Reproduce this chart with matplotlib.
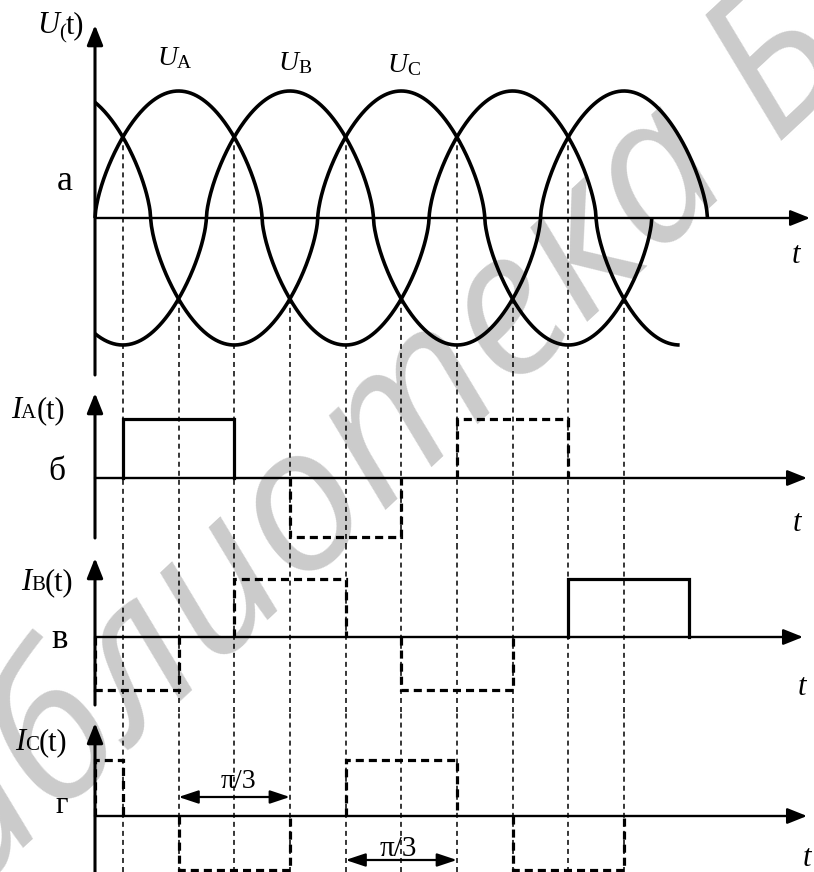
import numpy as np
import matplotlib
matplotlib.use('Agg')
import matplotlib.pyplot as plt

plt.rcParams['lines.scale_dashes'] = False
plt.rcParams['font.family'] = ['Liberation Serif', 'DejaVu Serif']
SERIF = ['Liberation Serif', 'DejaVu Serif']

# ---------------- data ----------------
# phase voltages U_A, U_B, U_C (electrical degrees)
u_names = ['A', 'B', 'C']
u_shift = [0, -120, 120]
u_start = [0, 0, 0]
u_end = [630, 660, 600]
u_shape = 0.65          # drawn curves are fuller than a pure sine

# commutation instants (dashed guide lines)
guide_deg = [30, 90, 150, 210, 270, 330, 390, 450, 510, 570]

# phase currents: interval start/end, level, line style
ia_start = [30, 210, 390]
ia_end = [150, 330, 510]
ia_level = [1.0, -1.0, 1.0]
ia_style = ['solid', 'dashed', 'dashed']

ib_start = [0, 150, 330, 510]
ib_end = [90, 270, 450, 640]
ib_level = [-0.92, 1.0, -0.92, 1.0]
ib_style = ['dashed', 'dashed', 'dashed', 'solid']

ic_start = [0, 90, 270, 450]
ic_end = [30, 210, 390, 570]
ic_level = [1.0, -0.97, 1.0, -0.97]
ic_style = ['dashed', 'dashed', 'dashed', 'dashed']

# pi/3 interval markers (in panel г)
pi3_start = [90, 270]
pi3_end = [210, 390]
pi3_text = ['π/3', 'π/3']

# ---------------- layout ----------------
W, H, DPI = 814, 872, 100
X0, KX = 95.0, 0.928            # pixel of 0 deg, pixels per degree
XLIM = ((0 - X0) / KX, (W - X0) / KX)
# panel: top px, bottom px, zero-line px, pixels per unit
panel_px = [(0, 376, 218, 127), (376, 548, 478, 59),
            (548, 712, 637, 58), (712, 872, 816, 56)]
axis_v_px = [(375, 25), (538, 393), (705, 558), (872, 723)]
axis_h_tip_px = [810, 807, 803, 807]

fig = plt.figure(figsize=(W / DPI, H / DPI), dpi=DPI)
ax_o = fig.add_axes([0, 0, 1, 1], zorder=0)
ax_o.set_xlim(0, W)
ax_o.set_ylim(H, 0)
ax_o.axis('off')

axes = []
for top, bot, zero, unit in panel_px:
    ax = fig.add_axes([0, 1 - bot / H, 1, (bot - top) / H], zorder=1)
    ax.set_facecolor('none')
    ax.axis('off')
    ax.set_xlim(*XLIM)
    ax.set_ylim((zero - bot) / unit, (zero - top) / unit)
    axes.append(ax)


def pval(i, px):
    top, bot, zero, unit = panel_px[i]
    return (zero - px) / unit


def pxdeg(px):
    return (px - X0) / KX


GUIDE = dict(color='k', lw=1.1, ls=(0, (3.6, 2.9)))
DASH = (0, (5.8, 3.6))

# axes with arrows
for i, ax in enumerate(axes):
    vb, vt = axis_v_px[i]
    ax.annotate('', xy=(0, pval(i, vt)), xytext=(0, pval(i, vb)),
                arrowprops=dict(arrowstyle='-|>,head_length=0.6,head_width=0.24',
                                mutation_scale=20, lw=2.2, color='k',
                                shrinkA=0, shrinkB=0),
                annotation_clip=False)
    ax.annotate('', xy=(pxdeg(axis_h_tip_px[i]), 0), xytext=(0, 0),
                arrowprops=dict(arrowstyle='-|>,head_length=0.6,head_width=0.24',
                                mutation_scale=20, lw=1.7, color='k',
                                shrinkA=0, shrinkB=0),
                annotation_clip=False)


def u_curve(theta, k):
    v = np.sin(np.radians(theta + u_shift[k]))
    return np.sign(v) * np.abs(v) ** u_shape


# panel a: voltages
axa = axes[0]
for k in range(3):
    th = np.linspace(u_start[k], u_end[k], 800)
    axa.plot(th, u_curve(th, k), color='k', lw=2.6, solid_capstyle='butt')

for g in guide_deg:
    vals = sorted(u_curve(g, k) for k in range(3))
    start = vals[2] if abs(vals[2] - vals[1]) < 1e-6 else vals[0]
    axa.vlines(g, axa.get_ylim()[0], start, **GUIDE)
    for ax in axes[1:]:
        ax.axvline(g, **GUIDE)


def draw_current(ax, starts, ends, levels, styles):
    for s, e, l, st in zip(starts, ends, levels, styles):
        ls = '-' if st == 'solid' else DASH
        ax.plot([s, s, e, e], [0, l, l, 0], color='k', lw=2.3, ls=ls,
                solid_joinstyle='miter', dash_joinstyle='miter')


draw_current(axes[1], ia_start, ia_end, ia_level, ia_style)
draw_current(axes[2], ib_start, ib_end, ib_level, ib_style)
draw_current(axes[3], ic_start, ic_end, ic_level, ic_style)

# pi/3 markers
pi3_arrow_px = [797, 860]
pi3_text_px = [(238, 788, 20), (398, 856, 21)]
for s, e, ypx, (tx, ty, fs), lab in zip(pi3_start, pi3_end, pi3_arrow_px, pi3_text_px, pi3_text):
    v = pval(3, ypx)
    axes[3].annotate('', xy=(e, v), xytext=(s, v),
                     arrowprops=dict(arrowstyle='<|-|>,head_length=0.6,head_width=0.2',
                                     mutation_scale=20, lw=1.6, color='k',
                                     shrinkA=0, shrinkB=0),
                     annotation_clip=False)
    ax_o.text(tx, ty, lab, fontsize=fs, family=SERIF, ha='center', va='baseline')

# ---------------- texts ----------------
renderer = fig.canvas.get_renderer()


def rich(x, y, pieces):
    for s, size, style, dx, dy in pieces:
        x += dx
        t = ax_o.text(x, y + dy, s, fontsize=size, fontstyle=style, family=SERIF,
                      ha='left', va='baseline')
        x += t.get_window_extent(renderer).width


rich(37, 33, [('U', 22, 'italic', 0, 0), ('(', 15, 'normal', 0, 5), ('t)', 22, 'normal', 0, 0)])
for x, y, n in [(157, 65, 'A'), (278, 70, 'B'), (387, 72, 'C')]:
    rich(x, y, [('U', 20, 'italic', 0, 0), (n, 14, 'normal', 0, 3)])
for x, y, n in [(11, 418, 'A'), (21, 590, 'B'), (15, 750, 'C')]:
    rich(x, y, [('I', 22, 'italic', 0, 0), (n, 15, 'normal', 0, 0), ('(t)', 22, 'normal', 0, 0)])

for x, y, s, fs in [(57, 190, 'а', 26), (48, 480, 'б', 24), (51, 648, 'в', 25), (55, 813, 'г', 22)]:
    ax_o.text(x, y, s, fontsize=fs, family=SERIF, ha='left', va='baseline')

for x, y in [(792, 263), (793, 531), (798, 695), (803, 866)]:
    ax_o.text(x, y, 't', fontsize=22, fontstyle='italic', family=SERIF, ha='left', va='baseline')

# watermark
wm = 'Библиотека БГУИР'
wm_fs = 145
wm_theta = 43.0
wm_kw = dict(fontsize=wm_fs, family=['Open Sans', 'DejaVu Sans'], fontstyle='italic',
             fontweight='normal', color='#cbcbcb')


def wm_width(s):
    t = ax_o.text(0, 0, s, **wm_kw)
    w = t.get_window_extent(renderer).width
    t.remove()
    return w


em = wm_fs * DPI / 72.0
xh = 0.54 * em
cx, cy = 481, 347          # centre of "отека" in the reference
th = np.radians(wm_theta)
d = wm_width('Библи') + wm_width('отека') / 2
bx = cx - d * np.cos(th) + (xh / 2) * np.sin(th)
by = cy + d * np.sin(th) + (xh / 2) * np.cos(th)
ax_o.text(bx, by, wm, rotation=wm_theta, rotation_mode='anchor', ha='left',
          va='baseline', zorder=-5, **wm_kw)

fig.savefig('out.png', dpi=DPI)
